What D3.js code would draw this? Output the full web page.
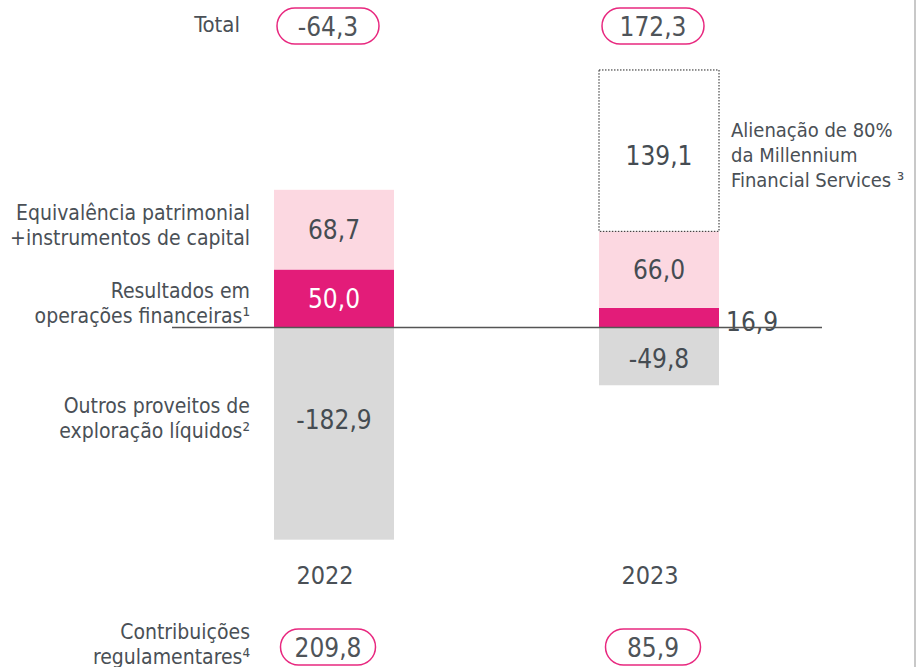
<!DOCTYPE html>
<html>
<head>
<meta charset="utf-8">
<script src="https://cdn.jsdelivr.net/npm/d3@7"></script>
<style>
  body { margin: 0; background: #fff; }
  svg text { font-family: "DejaVu Sans Condensed", "DejaVu Sans", sans-serif; font-stretch: condensed; fill: #4a5056; }
</style>
</head>
<body>
<svg width="917" height="667"></svg>
<script>
// Data (M€)
var years = ["2022", "2023"];
var equivalencia = [68.7, 66.0];   // Equivalência patrimonial + instrumentos de capital
var resultados = [50.0, 16.9];     // Resultados em operações financeiras
var outros = [-182.9, -49.8];      // Outros proveitos de exploração líquidos
var alienacao = [0, 139.1];        // Alienação de 80% da Millennium Financial Services
var totals = [-64.3, 172.3];
var contribuicoes = [209.8, 85.9];

var svg = d3.select("svg");

var pt = d3.formatLocale({decimal: ",", thousands: ".", grouping: [3], currency: ["", "€"], minus: "-"});
var fmt = pt.format(".1f");

var x = d3.scaleBand().domain(years).range([274, 719]).paddingInner(0.6308).paddingOuter(0);
var y = d3.scaleLinear().domain([0, 100]).range([327.5, 211.5]);
var bw = x.bandwidth();

// build stacked segments
var segs = [];
years.forEach(function(yr, i){
  segs.push({year: yr, y0: 0, y1: resultados[i], v: resultados[i], cls: "res"});
  segs.push({year: yr, y0: resultados[i], y1: resultados[i] + equivalencia[i], v: equivalencia[i], cls: "eq"});
  segs.push({year: yr, y0: outros[i], y1: 0, v: outros[i], cls: "out"});
  if (alienacao[i] > 0) {
    var b = resultados[i] + equivalencia[i];
    segs.push({year: yr, y0: b, y1: b + alienacao[i], v: alienacao[i], cls: "al"});
  }
});

var fills = {res: "#e31c79", eq: "#fcd8e1", out: "#d9d9d9", al: "#ffffff"};

svg.selectAll("rect.seg")
  .data(segs)
  .enter().append("rect")
  .attr("class", "seg")
  .attr("x", function(d){ return x(d.year); })
  .attr("y", function(d){ return y(d.y1); })
  .attr("width", bw)
  .attr("height", function(d){ return y(d.y0) - y(d.y1); })
  .attr("fill", function(d){ return fills[d.cls]; })
  .attr("stroke", function(d){ return d.cls === "al" ? "#222" : "none"; })
  .attr("stroke-width", 1)
  .attr("stroke-dasharray", function(d){ return d.cls === "al" ? "1.5,1.5" : null; });

// value labels
svg.selectAll("text.val")
  .data(segs)
  .enter().append("text")
  .attr("class", "val")
  .attr("x", function(d){
    if (d.cls === "res" && d.v < 20) return x(d.year) + bw + 7;
    return x(d.year) + bw / 2;
  })
  .attr("y", function(d){
    if (d.cls === "res" && d.v < 20) return y(0) + 3;
    if (d.cls === "out") return y(d.y1) + (d.v < -100 ? 101 : 40);
    if (d.cls === "al") return y(d.y1) + 95;
    return (y(d.y0) + y(d.y1)) / 2 + 9;
  })
  .attr("text-anchor", function(d){ return (d.cls === "res" && d.v < 20) ? "start" : "middle"; })
  .style("font-size", "26px")
  .style("fill", function(d){ return (d.cls === "res" && d.v >= 20) ? "#fff" : "#454c52"; })
  .text(function(d){ return fmt(d.v); });

// zero line
svg.append("line")
  .attr("x1", 172).attr("x2", 822)
  .attr("y1", y(0)).attr("y2", y(0))
  .attr("stroke", "#555").attr("stroke-width", 1.3);

// year labels
svg.selectAll("text.year")
  .data(years)
  .enter().append("text")
  .attr("class", "year")
  .attr("x", function(d){ return x(d) + bw / 2 - 9; })
  .attr("y", 584)
  .attr("text-anchor", "middle")
  .style("font-size", "25px")
  .text(function(d){ return d; });

// badges
function badges(vals, cy, w){
  var g = svg.selectAll(null)
    .data(vals)
    .enter().append("g")
    .attr("transform", function(d, i){ return "translate(" + (x(years[i]) + bw / 2 - 6) + "," + cy + ")"; });
  g.append("rect")
    .attr("x", -w / 2).attr("y", -18)
    .attr("width", w).attr("height", 36)
    .attr("rx", 18).attr("ry", 18)
    .attr("fill", "#fff")
    .attr("stroke", "#e8287f").attr("stroke-width", 1.5);
  g.append("text")
    .attr("text-anchor", "middle")
    .attr("y", 10)
    .style("font-size", "26px")
    .style("fill", "#4f5459")
    .text(function(d){ return fmt(d); });
}
badges(totals, 26, 102);
badges(contribuicoes, 647, 95);

// left category labels
var leftLabels = [
  {lines: ["Equivalência patrimonial", "+instrumentos de capital"], y: 220},
  {lines: ["Resultados em", "operações financeiras¹"], y: 298},
  {lines: ["Outros proveitos de", "exploração líquidos²"], y: 413},
  {lines: ["Contribuições", "regulamentares⁴"], y: 639}
];
leftLabels.forEach(function(l){
  var t = svg.append("text")
    .attr("text-anchor", "end")
    .style("font-size", "21px");
  l.lines.forEach(function(s, j){
    t.append("tspan").attr("x", 250).attr("y", l.y + j * 24.5).text(s);
  });
});

svg.append("text")
  .attr("x", 240).attr("y", 32)
  .attr("text-anchor", "end")
  .style("font-size", "22px")
  .text("Total");

// annotation for the sale
var ann = svg.append("text").style("font-size", "20px");
["Alienação de 80%", "da Millennium", "Financial Services ³"].forEach(function(s, j){
  ann.append("tspan").attr("x", 731).attr("y", 137 + j * 25).text(s);
});

// right frame edge
svg.append("line")
  .attr("x1", 915).attr("x2", 915).attr("y1", 0).attr("y2", 667)
  .attr("stroke", "#c8c8c8").attr("stroke-width", 2);
</script>
</body>
</html>
